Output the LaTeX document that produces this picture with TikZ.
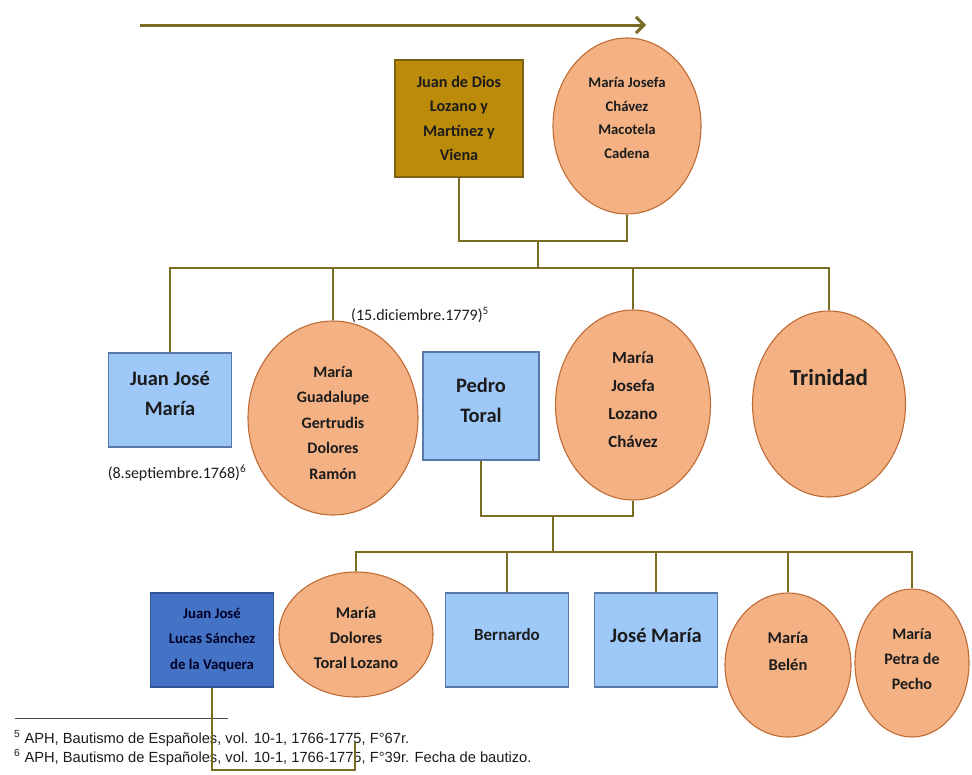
\documentclass[tikz,border=0pt]{standalone}
\usepackage{fontspec}
\setmainfont{Carlito}
\newfontfamily\notefont{Liberation Sans}
\usetikzlibrary{shapes.geometric,arrows.meta}

\definecolor{olivel}{HTML}{786B22}
\definecolor{peach}{HTML}{F4B183}
\definecolor{peachline}{HTML}{BF6B35}
\definecolor{skyfill}{HTML}{9DC8F7}
\definecolor{skyline}{HTML}{5878A8}
\definecolor{navyfill}{HTML}{4472C4}
\definecolor{navyline}{HTML}{2F5597}
\definecolor{goldfill}{HTML}{BC8B0A}
\definecolor{goldline}{HTML}{7F6010}
\definecolor{ink}{HTML}{1C1C1C}

\newcommand{\fsz}[2]{\fontsize{#1}{#2}\selectfont}

\tikzset{
  conn/.style={draw=olivel, line width=2.4pt},
  oval/.style={ellipse, draw=peachline, fill=peach, line width=1.1pt, inner sep=0pt},
  skybox/.style={rectangle, draw=skyline, fill=skyfill, line width=1.1pt, inner sep=0pt},
  navybox/.style={rectangle, draw=navyline, fill=navyfill, line width=1.1pt, inner sep=0pt},
  goldbox/.style={rectangle, draw=goldline, fill=goldfill, line width=1.1pt, inner sep=0pt},
  datelbl/.style={inner sep=0pt, text=ink, font=\fsz{16}{19}},
  note/.style={inner sep=0pt, text=ink, anchor=base west, font=\notefont\fsz{14.7}{17}},
  % bold centred name text: #1 = size, #2 = line distance
  nm/.style 2 args={inner sep=0pt, align=center, text=ink, font=\bfseries\fsz{#1}{#2}},
}

\begin{document}
\begin{tikzpicture}[x=1pt,y=-1pt]
\useasboundingbox (0,0) rectangle (972,774);

% time arrow
\coordinate (tl) at (140,25);
\coordinate (tr) at (646,25);
\draw[conn, line width=3pt, -{Straight Barb[length=8pt,width=16pt]}] (tl) -- (tr);

% first generation
\node[goldbox, minimum width=128pt, minimum height=117pt,
  label={[nm={16.2}{24.5}]center:{Juan de Dios\\Lozano y\\Martínez y\\Viena}}]
  (jd) at (459,118.5) {};
\node[oval, minimum width=148pt, minimum height=176pt,
  label={[nm={14.7}{23.5}, yshift=8pt]center:{María Josefa\\Chávez\\Macotela\\Cadena}}]
  (mj) at (627,126) {};

\coordinate (c1) at (538,241);
\coordinate (bus1) at (0,268);
\draw[conn] (jd.south) |- (c1) -| (mj.south);
\draw[conn] (c1) -- (c1 |- bus1);

% second generation
\node[skybox, minimum width=123pt, minimum height=94pt,
  label={[nm={20.5}{30}, yshift=7pt]center:{Juan José\\María}}]
  (jjm) at (170,400) {};
\node[oval, minimum width=170pt, minimum height=194pt,
  label={[nm={16}{25.5}, yshift=-5pt]center:{María\\Guadalupe\\Gertrudis\\Dolores\\Ramón}}]
  (mg) at (333,418) {};
\node[skybox, minimum width=116pt, minimum height=108pt,
  label={[nm={20.5}{30}, yshift=6pt]center:{Pedro\\Toral}}]
  (pt) at (481,406) {};
\node[oval, minimum width=155pt, minimum height=190pt,
  label={[nm={17}{28}, yshift=5pt]center:{María\\Josefa\\Lozano\\Chávez}}]
  (mjl) at (633,405) {};
\node[oval, minimum width=153pt, minimum height=186pt,
  label={[nm={23}{28}, yshift=26pt]center:{Trinidad}}]
  (trin) at (829,404) {};

\draw[conn] (jjm.north) -- (jjm.north |- bus1) -- (trin.north |- bus1) -- (trin.north);
\draw[conn] (mg.north) -- (mg.north |- bus1);
\draw[conn] (mjl.north) -- (mjl.north |- bus1);

\node[datelbl] (d15) at (420,315) {(15.diciembre.1779)\textsuperscript{5}};
\node[datelbl] (d8) at (177,473) {(8.septiembre.1768)\textsuperscript{6}};

% third generation
\coordinate (c3) at (553,516);
\coordinate (bus2) at (0,552);
\draw[conn] (pt.south) |- (c3) -| (mjl.south);
\draw[conn] (c3) -- (c3 |- bus2);

\node[navybox, minimum width=123pt, minimum height=94pt,
  label={[nm={14.8}{25.5}, text=black!85!blue]center:{Juan José\\Lucas Sánchez\\de la Vaquera}}]
  (jjl) at (212,640) {};
\node[oval, minimum width=154pt, minimum height=125pt,
  label={[nm={16.4}{25}, yshift=-3pt]center:{María\\Dolores\\Toral Lozano}}]
  (md) at (356,634.5) {};
\node[skybox, minimum width=123pt, minimum height=94pt,
  label={[nm={17}{25}, yshift=5pt]center:{Bernardo}}]
  (bern) at (507,640) {};
\node[skybox, minimum width=123pt, minimum height=94pt,
  label={[nm={20.5}{25}, yshift=5pt]center:{José María}}]
  (jm2) at (656,640) {};
\node[oval, minimum width=126pt, minimum height=144pt,
  label={[nm={16.5}{27}, yshift=14pt]center:{María\\Belén}}]
  (belen) at (788,665) {};
\node[oval, minimum width=114pt, minimum height=148pt,
  label={[nm={16}{25}, yshift=4pt]center:{María\\Petra de\\Pecho}}]
  (petra) at (912,663) {};

\draw[conn] (md.north) -- (md.north |- bus2) -- (petra.north |- bus2) -- (petra.north);
\draw[conn] (bern.north) -- (bern.north |- bus2);
\draw[conn] (jm2.north) -- (jm2.north |- bus2);
\draw[conn] (belen.north) -- (belen.north |- bus2);

% footnotes
\coordinate (r0) at (15,718);
\coordinate (r1) at (228,718);
\draw[draw=ink!80, line width=1pt] (r0) -- (r1);
\node[note] (fn5) at (14,743) {\textsuperscript{5} APH, Bautismo de Españoles, vol. 10-1, 1766-1775, F°67r.};
\node[note] (fn6) at (14,762) {\textsuperscript{6} APH, Bautismo de Españoles, vol. 10-1, 1766-1775, F°39r. Fecha de bautizo.};

% line leaving the lower left box
\coordinate (lp) at (355,742);
\coordinate (lb) at (0,770);
\draw[conn, line width=2pt] (jjl.south) -- (jjl.south |- lb) -- (lp |- lb) -- (lp);
\end{tikzpicture}
\end{document}
